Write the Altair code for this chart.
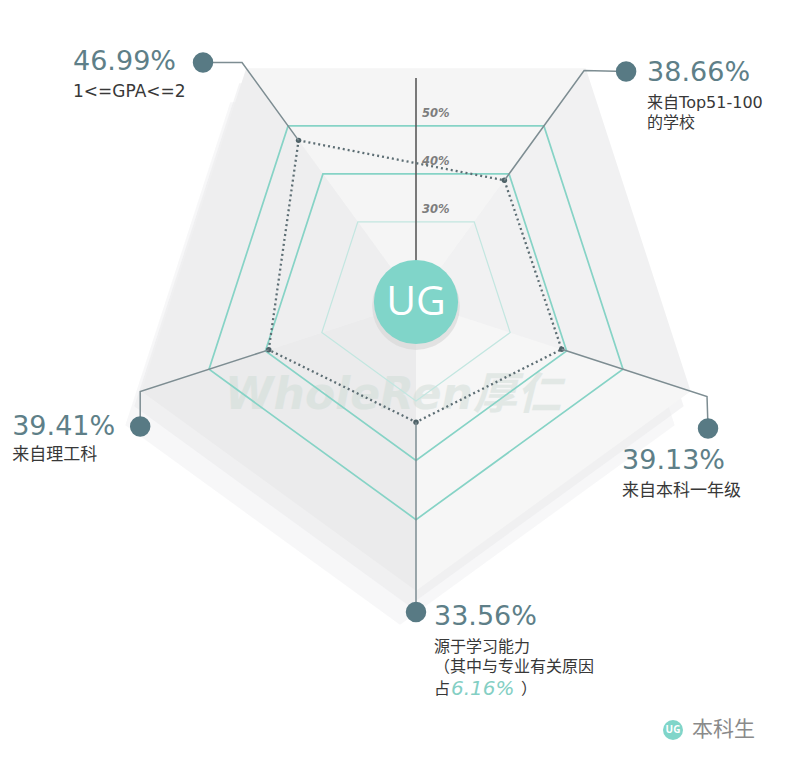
import math
import altair as alt
import pandas as pd

# ---------------- data ----------------
categories = ["1<=GPA<=2", "来自Top51-100的学校", "来自本科一年级", "源于学习能力", "来自理工科"]
values = [46.99, 38.66, 39.13, 33.56, 39.41]
value_labels = ["46.99%", "38.66%", "39.13%", "33.56%", "39.41%"]
sub_label_lines = [
    ["1<=GPA<=2"],
    ["来自Top51-100", "的学校"],
    ["来自本科一年级"],
    ["源于学习能力", "（其中与专业有关原因", "占"],
    ["来自理工科"],
]
note_value = "6.16%"
note_close = "）"
grid_levels = [30, 40, 50]
grid_labels = ["30%", "40%", "50%"]
center_label = "UG"
legend_label = "本科生"
watermark = "WholeRen厚仁"

# ---------------- layout ----------------
W, H = 778, 760
CX, CY = 408, 294          # centre of the radar, plot px
PX = 5.93                  # px per percentage point
BASE = 13.3                # radial origin (%)
START_DEG, STEP_DEG = 126, -72
BG_LEVEL = 62
SCALE_TOP_PX = 224
bend_px = [296, 286, 306, 310, 290]
marker_off = [(-39, 0), (42, 1), (1, 32), (0, 0), (0, 35)]
num_off = [(-130, -1), (21, 1), (-86, 32), (18, 5), (-128, 0)]
sub_off = [[(-130, 29)], [(21, 31), (21, 51)], [(-86, 62)], [(18, 35), (18, 55), (18, 77)], [(-128, 28)]]
sub_size = [17, 16, 17, 16, 17]
note_off = (35, 77)
close_off = (105, 77)

FONT = "DejaVu Sans, Noto Sans CJK SC"
CJK = "Noto Sans CJK SC, DejaVu Sans"
TEAL = "#80d5c9"
SLATE = "#587a84"

xs = alt.Scale(domain=[-CX / PX, (W - CX) / PX], nice=False, zero=False)
ys = alt.Scale(domain=[-(H - CY) / PX, CY / PX], nice=False, zero=False)
X = alt.X("x:Q", scale=xs, axis=None)
Y = alt.Y("y:Q", scale=ys, axis=None)


def radar(df):
    return alt.Chart(df).transform_calculate(
        ang=f"({START_DEG}+({STEP_DEG})*datum.k)*PI/180"
    ).transform_calculate(
        x="datum.r*cos(datum.ang)+datum.ox",
        y="datum.r*sin(datum.ang)+datum.oy",
    )


def rows(**cols):
    df = pd.DataFrame(cols)
    for c in ("ox", "oy"):
        if c not in df:
            df[c] = 0.0
    return df


# background facets (pyramid look)
facet_colors = ["#f5f5f5", "#f1f1f2", "#f6f6f6", "#ebebec", "#eeeeef"]
outer_df = rows(k=list(range(5)), r=[BG_LEVEL - BASE] * 5)
shadow1 = radar(outer_df).mark_line(filled=True, interpolate="linear-closed", color="#ececee",
                                     opacity=0.4, xOffset=-16, yOffset=34).encode(x=X, y=Y, order="k:Q")
shadow2 = radar(outer_df).mark_line(filled=True, interpolate="linear-closed", color="#e6e6e8",
                                     opacity=0.45, xOffset=-7, yOffset=15).encode(x=X, y=Y, order="k:Q")
facet_layers = []
for f in range(5):
    fdf = rows(j=[0, 1, 2], k=[f, f, f + 1], r=[0, BG_LEVEL - BASE, BG_LEVEL - BASE])
    facet_layers.append(
        radar(fdf).mark_line(filled=True, interpolate="linear-closed", color=facet_colors[f],
                             opacity=1).encode(x=X, y=Y, order="j:Q"))

wm = alt.Chart(pd.DataFrame({"t": [watermark]})).mark_text(
    font=FONT, fontSize=44, fontStyle="italic", fontWeight="bold", color="#cfdcd6", opacity=0.5,
    align="center", baseline="middle",
).encode(x=alt.value(385), y=alt.value(388), text="t:N")

# grid pentagons
grid_layers = []
for lv in grid_levels:
    gdf = rows(k=list(range(5)), r=[lv - BASE] * 5)
    inner = lv == grid_levels[0]
    grid_layers.append(
        radar(gdf).mark_line(interpolate="linear-closed", color="#c2e6e0" if inner else "#86d3c6",
                             strokeWidth=1.2 if inner else 1.7).encode(x=X, y=Y, order="k:Q"))

# vertical scale line + labels
scale_line = radar(rows(k=[0.5, 0.5], r=[0, SCALE_TOP_PX / PX])).mark_line(
    color="#5a5a5a", strokeWidth=1.6).encode(x=X, y=Y, order="r:Q")
cos36 = math.cos(math.radians(36))
scale_txt = radar(rows(k=[0.5] * 3, r=[(lv - BASE) * cos36 + 12 / PX for lv in grid_levels],
                       ox=[6 / PX] * 3, t=grid_labels)).mark_text(
    font=FONT, fontSize=11.5, fontStyle="italic", fontWeight="bold", color="#7d7d7d",
    align="left", baseline="middle").encode(x=X, y=Y, text="t:N")

# data polygon
pts_df = rows(k=list(range(5)), r=[v - BASE for v in values], cat=categories, value=values)
poly = radar(pts_df).mark_line(interpolate="linear-closed", strokeDash=[2, 3], strokeWidth=2.3,
                               color="#5d6e74").encode(x=X, y=Y, order="k:Q")
dots = radar(pts_df).mark_point(filled=True, size=30, color="#4f6268", opacity=1).encode(x=X, y=Y)

# leader lines
lead = []
for i, v in enumerate(values):
    b = bend_px[i] / PX
    lead.append({"i": i, "step": 0, "k": i, "r": v - BASE, "ox": 0.0, "oy": 0.0})
    lead.append({"i": i, "step": 1, "k": i, "r": b, "ox": 0.0, "oy": 0.0})
    lead.append({"i": i, "step": 2, "k": i, "r": b, "ox": marker_off[i][0] / PX, "oy": -marker_off[i][1] / PX})
lead_df = pd.DataFrame(lead)
leaders = radar(lead_df).mark_line(color="#7d8d92", strokeWidth=1.5).encode(
    x=X, y=Y, order="step:Q", detail="i:N")
markers = radar(lead_df[lead_df.step == 2]).mark_point(filled=True, size=420, color=SLATE, opacity=1).encode(x=X, y=Y)

# labels
num_rows, sub_rows = [], []
for i in range(5):
    b = bend_px[i] / PX
    mx, my = marker_off[i]
    num_rows.append({"k": i, "r": b, "ox": (mx + num_off[i][0]) / PX, "oy": -(my + num_off[i][1]) / PX,
                     "t": value_labels[i]})
    for line, (dx, dy) in zip(sub_label_lines[i], sub_off[i]):
        sub_rows.append({"k": i, "r": b, "ox": (mx + dx) / PX, "oy": -(my + dy) / PX, "t": line,
                         "s": sub_size[i]})
nums = radar(pd.DataFrame(num_rows)).mark_text(
    font=FONT, fontSize=27, color="#5e7f88", align="left", baseline="middle").encode(x=X, y=Y, text="t:N")
sub_df = pd.DataFrame(sub_rows)
subs = radar(sub_df[sub_df.s == 17]).mark_text(
    font=FONT, fontSize=17, color="#383838", align="left", baseline="middle").encode(x=X, y=Y, text="t:N")
subs_b = radar(sub_df[sub_df.s == 16]).mark_text(
    font=FONT, fontSize=16, color="#383838", align="left", baseline="middle").encode(x=X, y=Y, text="t:N")
b3 = bend_px[3] / PX
note = radar(rows(k=[3], r=[b3], ox=[note_off[0] / PX], oy=[-note_off[1] / PX], t=[note_value])).mark_text(
    font=FONT, fontSize=20, fontStyle="italic", color="#84cfc4", align="left", baseline="middle"
).encode(x=X, y=Y, text="t:N")
close = radar(rows(k=[3], r=[b3], ox=[close_off[0] / PX], oy=[-close_off[1] / PX], t=[note_close])).mark_text(
    font=CJK, fontSize=16, color="#383838", align="left", baseline="middle"
).encode(x=X, y=Y, text="t:N")

# centre badge
ctr = rows(k=[0], r=[0.0], t=[center_label])
badge_shadow = radar(ctr).mark_point(filled=True, size=7700, color="#d6d6d6", opacity=0.6, yOffset=4).encode(x=X, y=Y)
badge = radar(ctr).mark_point(filled=True, size=7090, color=TEAL, opacity=1).encode(x=X, y=Y)
badge_txt = radar(ctr).mark_text(font="Open Sans", fontSize=41, color="white", align="center",
                                 baseline="middle", dy=1).encode(x=X, y=Y, text="t:N")

# legend
leg = pd.DataFrame({"t": [center_label], "l": [legend_label]})
leg_dot = alt.Chart(leg).mark_point(filled=True, size=400, color=TEAL, opacity=1).encode(
    x=alt.value(665), y=alt.value(722))
leg_ug = alt.Chart(leg).mark_text(font="Open Sans", fontSize=10, fontWeight="bold", color="white",
                                  align="center", baseline="middle").encode(
    x=alt.value(665), y=alt.value(722), text="t:N")
leg_txt = alt.Chart(leg).mark_text(font=CJK, fontSize=21, color="#8a8a8a", align="left",
                                   baseline="middle").encode(x=alt.value(684), y=alt.value(722), text="l:N")

chart = alt.layer(
    shadow1, shadow2, *facet_layers, wm, *grid_layers, scale_line, scale_txt, poly, dots, leaders, markers,
    nums, subs, subs_b, note, close, badge_shadow, badge, badge_txt, leg_dot, leg_ug, leg_txt,
).properties(width=W, height=H, padding=0, background="white").configure_view(stroke=None)

chart.save("out.html", embed_options={"renderer": "svg", "actions": False})
